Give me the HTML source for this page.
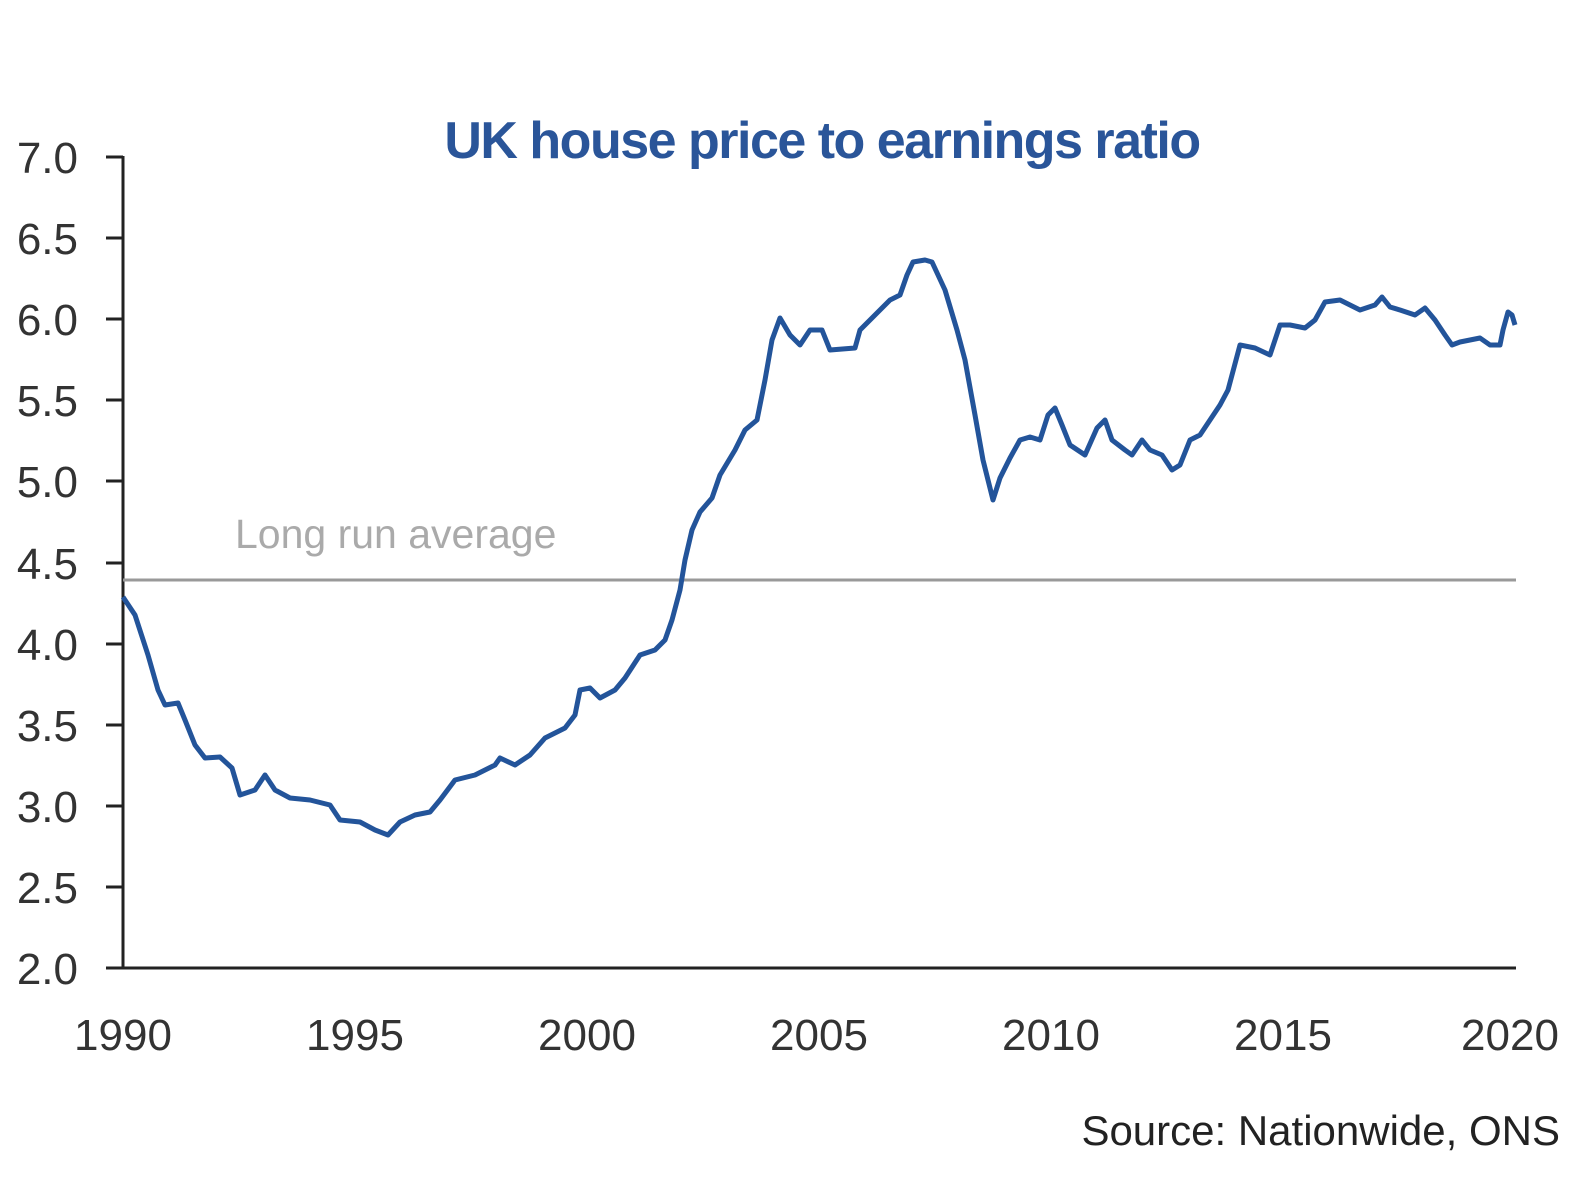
<!DOCTYPE html>
<html><head><meta charset="utf-8"><style>
html,body{margin:0;padding:0;background:#fff;}
svg{display:block;}
text{font-family:"Liberation Sans","DejaVu Sans",sans-serif;}
</style></head><body>
<svg width="1588" height="1191" viewBox="0 0 1588 1191" xmlns="http://www.w3.org/2000/svg">
<rect width="1588" height="1191" fill="#fff"/>
<text x="822" y="158" text-anchor="middle" font-size="52" fill="#2a5599" font-weight="bold" letter-spacing="-1.5">UK house price to earnings ratio</text>
<g stroke="#222" stroke-width="3" fill="none">
<line x1="123" y1="156" x2="123" y2="969"/>
<line x1="106" y1="968" x2="1516" y2="968"/>
<line x1="106" y1="157" x2="123" y2="157"/>
<line x1="106" y1="238" x2="123" y2="238"/>
<line x1="106" y1="319" x2="123" y2="319"/>
<line x1="106" y1="400" x2="123" y2="400"/>
<line x1="106" y1="481" x2="123" y2="481"/>
<line x1="106" y1="563" x2="123" y2="563"/>
<line x1="106" y1="644" x2="123" y2="644"/>
<line x1="106" y1="725" x2="123" y2="725"/>
<line x1="106" y1="806" x2="123" y2="806"/>
<line x1="106" y1="887" x2="123" y2="887"/>
</g>
<g font-size="44" fill="#333" text-anchor="end">
<text x="78" y="173">7.0</text>
<text x="78" y="254">6.5</text>
<text x="78" y="335">6.0</text>
<text x="78" y="416">5.5</text>
<text x="78" y="497">5.0</text>
<text x="78" y="579">4.5</text>
<text x="78" y="660">4.0</text>
<text x="78" y="741">3.5</text>
<text x="78" y="822">3.0</text>
<text x="78" y="903">2.5</text>
<text x="78" y="984">2.0</text>
</g>
<g font-size="44" fill="#333" text-anchor="middle">
<text x="123" y="1050">1990</text>
<text x="355" y="1050">1995</text>
<text x="587" y="1050">2000</text>
<text x="819" y="1050">2005</text>
<text x="1051" y="1050">2010</text>
<text x="1283" y="1050">2015</text>
<text x="1510" y="1050">2020</text>
</g>
<line x1="123" y1="580" x2="1516" y2="580" stroke="#999" stroke-width="3"/>
<text x="235" y="548" font-size="41" fill="#aaa">Long run average</text>
<polyline fill="none" stroke="#23549a" stroke-width="5" stroke-linejoin="round" points="123,597 135,615 148,655 158,690 165,705 178,703 185,720 195,745 205,758 220,757 232,768 240,795 255,790 265,775 275,790 290,798 310,800 330,805 340,820 360,822 375,830 388,835 400,822 415,815 430,812 440,800 455,780 475,775 495,765 500,758 515,765 530,755 545,738 565,728 575,715 580,690 590,688 600,698 615,690 625,678 640,655 655,650 665,640 672,620 680,590 685,560 692,530 700,512 712,498 720,475 735,450 745,430 757,420 765,380 772,340 780,318 790,335 800,345 810,330 822,330 830,350 855,348 860,330 875,315 890,300 900,295 907,275 913,262 925,260 932,262 945,290 957,330 965,360 975,415 983,460 993,500 1000,478 1010,458 1020,440 1030,437 1040,440 1048,415 1055,408 1062,425 1070,445 1085,455 1097,428 1105,420 1112,440 1125,450 1132,455 1142,440 1150,450 1162,455 1172,470 1180,465 1190,440 1200,435 1210,420 1220,405 1228,390 1240,345 1255,348 1270,355 1280,325 1290,325 1305,328 1315,320 1325,302 1340,300 1350,305 1360,310 1375,305 1382,297 1390,307 1400,310 1415,315 1425,308 1435,320 1445,335 1452,345 1460,342 1470,340 1480,338 1490,345 1500,345 1503,330 1508,312 1512,315 1515,325"/>
<text x="1560" y="1145" font-size="42" fill="#222" text-anchor="end">Source: Nationwide, ONS</text>
</svg>
</body></html>
